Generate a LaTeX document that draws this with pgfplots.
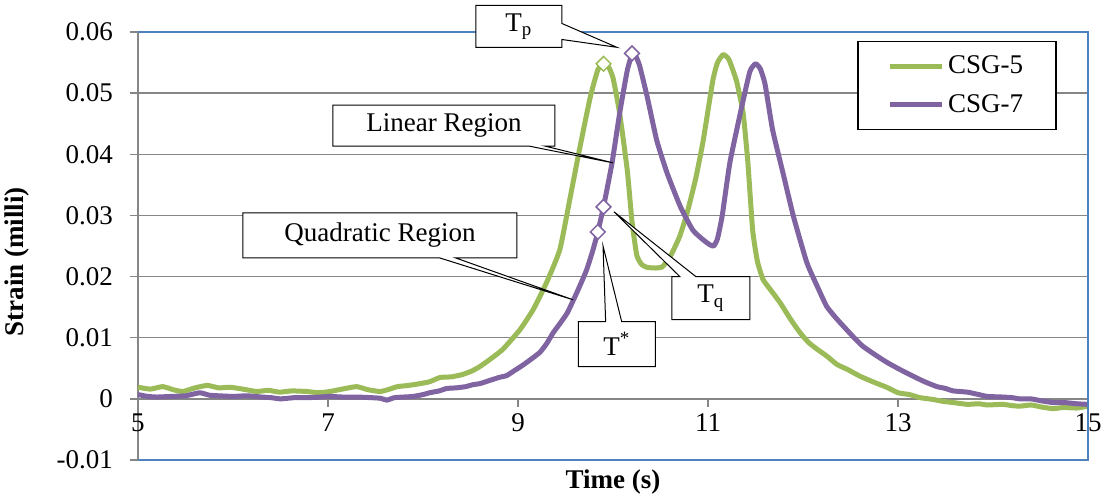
\documentclass[border=0pt]{standalone}
\usepackage{fontspec}
\setmainfont{Liberation Serif}
\usepackage{pgfplots}
\usepackage{pgfplotstable}
\pgfplotsset{compat=1.18}
\usetikzlibrary{shapes.callouts}

\definecolor{csgA}{RGB}{155,187,89}
\definecolor{csgB}{RGB}{128,100,162}
\definecolor{gridgray}{RGB}{134,134,134}
\definecolor{frameblue}{RGB}{79,129,189}
\newcommand\fs{\fontsize{13.5}{16}\selectfont}

% CSG-5
\pgfplotstableread{
t e
5.00 0.0019
5.13 0.0016
5.26 0.0020
5.37 0.0015
5.47 0.0012
5.60 0.0018
5.73 0.0022
5.85 0.0018
5.97 0.0019
6.10 0.0016
6.25 0.0012
6.37 0.0014
6.49 0.0011
6.62 0.0013
6.78 0.0012
6.90 0.0010
7.02 0.0012
7.15 0.0016
7.30 0.0020
7.42 0.0015
7.55 0.0012
7.65 0.0016
7.73 0.0020
7.85 0.0022
7.97 0.0025
8.07 0.0028
8.18 0.0035
8.30 0.0036
8.42 0.0040
8.52 0.0046
8.60 0.0053
8.70 0.0064
8.84 0.0081
9.02 0.0113
9.16 0.0146
9.30 0.0190
9.44 0.0244
9.55 0.0330
9.65 0.0410
9.76 0.0493
9.84 0.0538
9.90 0.0548
9.95 0.0544
10.00 0.0525
10.07 0.0467
10.15 0.0374
10.20 0.0290
10.25 0.0235
10.30 0.0220
10.36 0.0215
10.45 0.0214
10.52 0.0216
10.60 0.0232
10.70 0.0265
10.78 0.0304
10.87 0.0360
10.95 0.0423
11.05 0.0520
11.10 0.0550
11.16 0.0563
11.22 0.0555
11.30 0.0520
11.37 0.0467
11.42 0.0386
11.47 0.0276
11.52 0.0225
11.58 0.0195
11.67 0.0176
11.76 0.0157
11.87 0.0130
11.97 0.0108
12.06 0.0092
12.15 0.0081
12.25 0.0070
12.36 0.0056
12.47 0.0048
12.60 0.0037
12.75 0.0027
12.88 0.0019
13.00 0.0010
13.12 0.0007
13.23 0.0002
13.37 -0.0001
13.47 -0.0004
13.58 -0.0006
13.73 -0.0009
13.85 -0.0008
13.94 -0.0010
14.10 -0.0009
14.20 -0.0011
14.28 -0.0012
14.40 -0.0010
14.50 -0.0013
14.63 -0.0016
14.75 -0.0014
14.88 -0.0015
15.00 -0.0012
}\csgfive

% CSG-7
\pgfplotstableread{
t e
5.00 0.0007
5.10 0.0004
5.20 0.0003
5.35 0.0004
5.50 0.0005
5.65 0.0010
5.75 0.0006
5.85 0.0005
6.00 0.0004
6.15 0.0005
6.30 0.0003
6.40 0.0002
6.50 0.0000
6.65 0.0002
6.80 0.0002
6.92 0.0003
7.02 0.0004
7.15 0.0003
7.30 0.0003
7.45 0.0002
7.55 0.0001
7.62 -0.0002
7.70 0.0002
7.80 0.0003
7.90 0.0004
8.00 0.0007
8.07 0.0010
8.17 0.0013
8.25 0.0017
8.35 0.0018
8.45 0.0020
8.52 0.0023
8.60 0.0025
8.70 0.0030
8.80 0.0035
8.88 0.0038
8.95 0.0045
9.05 0.0055
9.13 0.0064
9.23 0.0076
9.30 0.0090
9.37 0.0108
9.45 0.0125
9.52 0.0141
9.62 0.0174
9.72 0.0210
9.79 0.0244
9.84 0.0273
9.90 0.0314
9.99 0.0386
10.07 0.0467
10.15 0.0537
10.20 0.0563
10.24 0.0560
10.28 0.0545
10.36 0.0494
10.46 0.0423
10.57 0.0369
10.71 0.0314
10.84 0.0276
10.95 0.0260
11.02 0.0252
11.06 0.0250
11.10 0.0262
11.15 0.0300
11.23 0.0386
11.34 0.0467
11.44 0.0535
11.50 0.0548
11.55 0.0540
11.60 0.0515
11.68 0.0440
11.79 0.0369
11.90 0.0298
12.04 0.0223
12.15 0.0184
12.25 0.0151
12.36 0.0130
12.46 0.0113
12.55 0.0098
12.63 0.0086
12.75 0.0073
12.88 0.0060
13.02 0.0048
13.16 0.0037
13.28 0.0028
13.41 0.0020
13.50 0.0017
13.58 0.0013
13.73 0.0011
13.85 0.0007
13.94 0.0004
14.10 0.0003
14.20 0.0002
14.28 0.0000
14.40 0.0000
14.50 -0.0003
14.63 -0.0006
14.75 -0.0006
14.88 -0.0008
15.00 -0.0009
}\csgseven

\tikzset{callbox/.style={rectangle callout, draw=black, fill=white, line width=0.5pt,
  inner sep=0pt, callout pointer width=8pt, font=\fs}}

\begin{document}
\begin{tikzpicture}
\begin{axis}[
    at={(0,0)}, anchor=south west,
    scale only axis,
    width=475pt, height=214pt,
    xmin=5, xmax=15, ymin=-0.01, ymax=0.06,
    axis x line=middle, axis y line=left,
    axis line style={-, draw=gridgray, line width=0.75pt},
    xtick={5,7,9,11,13,15},
    ytick={-0.01,0,0.01,0.02,0.03,0.04,0.05,0.06},
    hide obscured x ticks=false, hide obscured y ticks=false,
    scaled y ticks=false,
    yticklabel style={/pgf/number format/fixed, /pgf/number format/precision=2, xshift=-5pt},
    /pgf/number format/assume math mode=true,
    tick align=outside, major tick length=4pt,
    tick style={draw=gridgray, line width=0.75pt},
    ymajorgrids,
    grid style={draw=gridgray, line width=0.75pt},
    tick label style={font=\fs},
    xlabel={\textbf{Time (s)}}, ylabel={\textbf{Strain (milli)}},
    every axis x label/.style={at={(axis description cs:0.5,0)}, anchor=center, yshift=-11pt, font=\fs},
    every axis y label/.style={at={(axis description cs:0,0.463)}, xshift=-60.5pt, rotate=90, anchor=center, font=\fs},
    clip=false,
    legend cell align=left,
    legend image code/.code={\draw[#1, line width=2.5pt] (0pt,0pt) -- (26pt,0pt);},
    legend style={at={(axis description cs:0.967,0.979)}, anchor=north east,
        draw=black, line width=0.6pt, fill=white, font=\fs,
        inner xsep=14.5pt, inner ysep=5pt, row sep=5pt},
]
\addplot[csgA, line width=2.5pt, line join=round, smooth, tension=0.3] table[x=t, y=e] {\csgfive};
\addlegendentry{CSG-5}
\addplot[csgB, line width=2.5pt, line join=round, smooth, tension=0.3] table[x=t, y=e] {\csgseven};
\addlegendentry{CSG-7}

\addplot[only marks, mark=square*, mark size=2.6pt, forget plot,
    mark options={rotate=45, draw=csgA, fill=white, line width=0.75pt}]
    coordinates {(9.90,0.0548)};
\addplot[only marks, mark=square*, mark size=2.6pt, forget plot,
    mark options={rotate=45, draw=csgB, fill=white, line width=0.75pt}]
    coordinates {(10.20,0.0565) (9.90,0.0314) (9.84,0.0273)};

\draw[frameblue, line width=0.75pt] (rel axis cs:0,1) -- (rel axis cs:1,1) -- (rel axis cs:1,0) -- (rel axis cs:0,0);

\node[callbox, minimum width=43pt, minimum height=21pt,
    callout absolute pointer={(axis cs:10.04,0.0575)}] at (axis cs:9.01,0.0609) {T\textsubscript{p}};
\node[callbox, minimum width=111pt, minimum height=20.5pt,
    callout absolute pointer={(axis cs:10.0,0.0386)}] at (axis cs:8.22,0.0447) {Linear Region};
\node[callbox, minimum width=137pt, minimum height=22.5pt,
    callout absolute pointer={(axis cs:9.58,0.0162)}] at (axis cs:7.547,0.02675) {Quadratic Region};
\node[callbox, minimum width=38.5pt, minimum height=22.5pt,
    callout absolute pointer={(axis cs:9.895,0.025)}] at (axis cs:10.04,0.00897) {T\textsuperscript{*}};
\node[callbox, minimum width=39pt, minimum height=21.5pt,
    callout absolute pointer={(axis cs:10.01,0.0306)}] at (axis cs:11.03,0.01648) {T\textsubscript{q}};
\end{axis}
\pgfresetboundingbox
\path (-69pt,-19pt) rectangle (482pt,230pt);
\end{tikzpicture}
\end{document}
